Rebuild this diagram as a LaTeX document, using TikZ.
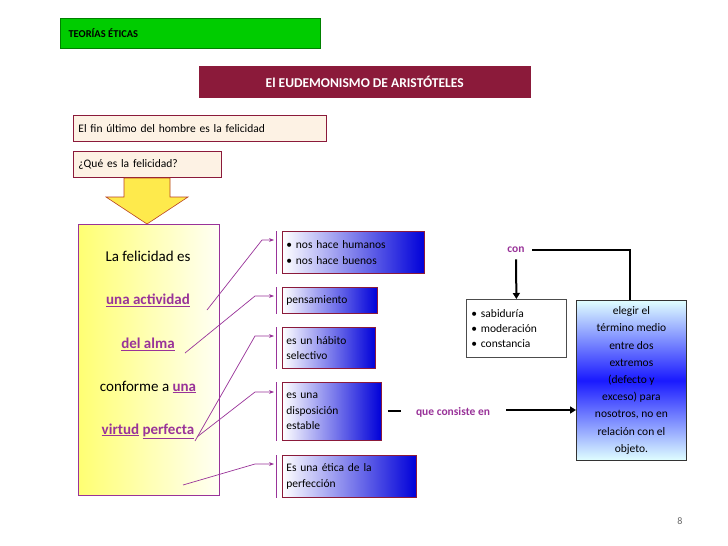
\documentclass[tikz,border=0pt]{standalone}
\usepackage{fontspec}
\setmainfont{Carlito}
\usetikzlibrary{arrows.meta}
\definecolor{pur}{HTML}{993399}
\definecolor{dred}{HTML}{8B1A3A}
\definecolor{ltor}{HTML}{FDF2E4}
\begin{document}
\begin{tikzpicture}[x=1pt,y=-1pt,
 grad/.style={draw=dred,line width=0.8pt,left color=white,right color=blue!85!black,inner sep=4pt,align=left,anchor=north west,font=\fontsize{11.5}{15.5}\selectfont},
 lbl/.style={draw=dred,line width=0.8pt,fill=ltor,anchor=north west,font=\fontsize{11.5}{14}\selectfont,inner sep=0pt,align=left},
 con/.style={pur,line width=0.7pt,-{Stealth[length=5pt]}},
 brk/.style={pur,line width=0.7pt},
]
\useasboundingbox (0,0) rectangle (728,546);
\fill[white] (0,0) rectangle (728,546);
% header
\node[draw=green!50!black,fill=green!80!black,minimum width=260,minimum height=30,anchor=north west,inner sep=0] (hdr) at (60,18) {};
\node[anchor=west,font=\bfseries\fontsize{10.5}{12}\selectfont] (hdrt) at (65,33) {TEORÍAS ÉTICAS};
\node[draw=dred,fill=dred,minimum width=331,minimum height=31,anchor=north west,inner sep=0,text=white,font=\bfseries\fontsize{13.5}{15}\selectfont] (title) at (199,66) {El EUDEMONISMO DE ARISTÓTELES};
\node[lbl,minimum width=253,minimum height=26,text width=249] (fin) at (73,115) {\hspace*{3pt}El fin último del hombre es la felicidad};
\node[lbl,minimum width=148,minimum height=26,text width=144] (que) at (73,151) {\hspace*{3pt}¿Qué es la felicidad?};
% block arrow
\draw[draw=dred!60!orange,fill=yellow!85!orange!70,line width=0.6pt] (124,178) -- (170,178) -- (170,197) -- (188,197) -- (147,224) -- (106,197) -- (124,197) -- cycle;
% yellow box
\node[draw=pur,line width=0.9pt,left color=yellow!55,right color=yellow!4,minimum width=141,minimum height=271,anchor=north west,inner sep=0] (fel) at (78,224) {};
\begin{scope}[font=\fontsize{15}{18}\selectfont]
\node (t1) at (148,256) {La felicidad es};
\node[text=pur,font=\bfseries\fontsize{15}{18}\selectfont] (t2) at (148,300) {\underline{una actividad}};
\node[text=pur,font=\bfseries\fontsize{15}{18}\selectfont] (t3) at (148,344) {\underline{del alma}};
\node (t4) at (148,387) {conforme a \textcolor{pur}{\bfseries\underline{una}}};
\node[text=pur,font=\bfseries\fontsize{15}{18}\selectfont] (t5) at (148,431) {\underline{virtud} \underline{perfecta}};
\end{scope}
% right boxes
\node[grad,minimum width=142,minimum height=42,text width=134] (b1) at (282,231) {• nos hace humanos\\• nos hace buenos};
\node[grad,minimum width=95,minimum height=26,text width=87] (b2) at (282,287) {pensamiento};
\node[grad,minimum width=93,minimum height=41,text width=85] (b3) at (282,327) {es un hábito\\selectivo};
\node[grad,minimum width=99,minimum height=58,text width=91] (b4) at (282,382) {es una\\disposición\\estable};
\node[grad,minimum width=134,minimum height=42,text width=126] (b5) at (282,455) {Es una ética de la\\perfección};
% brackets
\foreach \b in {b1,b2,b3,b4,b5}{\draw[brk] ([xshift=-6pt]\b.north west) -- ([xshift=-6pt]\b.south west);}
% connectors
\coordinate (s1) at (207,310); \coordinate (s2) at (185,353); \coordinate (s3) at (195,441);
\coordinate (s4) at (197,437); \coordinate (s5) at (183,485);
\draw[con] (s1) -- (262,240) -- (274,240);
\draw[con] (s2) -- (255,296) -- (274,296);
\draw[con] (s3) -- (255,336) -- (274,336);
\draw[con] (s4) -- (255,392) -- (274,392);
\draw[con] (s5) -- (255,464) -- (274,464);
% right side
\node[draw=black!70,line width=0.8pt,fill=white,anchor=north west,minimum width=100,minimum height=58,text width=90,inner sep=5pt,align=left,font=\fontsize{11.5}{15}\selectfont] (sab) at (466,299) {• sabiduría\\• moderación\\• constancia};
\node[draw=black!80,line width=0.8pt,anchor=north west,minimum width=110,minimum height=160,inner sep=0,top color=cyan!12,bottom color=cyan!12,middle color=blue!90] (eleg) at (576,300) {};
\node[align=center,font=\fontsize{11.5}{17.2}\selectfont] (elt) at (eleg.center) {elegir el\\término medio\\entre dos\\extremos\\(defecto y\\exceso) para\\nosotros, no en\\relación con el\\objeto.};
\node[text=pur,font=\bfseries\fontsize{11.5}{13}\selectfont] (con) at (516,250) {con};
\node[text=pur,font=\bfseries\fontsize{11.5}{13}\selectfont] (cons) at (453,412) {que consiste en};
\coordinate (c1) at ([xshift=4pt]con.east);
\coordinate (c2) at ([yshift=-3pt]con.south);
\draw[line width=2pt] (c1) -- (630,250) -- (630,300);
\draw[line width=2pt,-{Triangle[length=6pt,width=7pt]}] (c2) -- (sab.north);
\coordinate (d1) at ([xshift=6pt]b4.east);
\draw[line width=2pt] (d1) -- ++(13pt,0);
\draw[line width=2pt,-{Triangle[length=6pt,width=7pt]}] (506,410) -- (576,410);
\node[text=black!60,font=\fontsize{10}{11}\selectfont] (pg) at (680,521) {8};
\end{tikzpicture}
\end{document}
